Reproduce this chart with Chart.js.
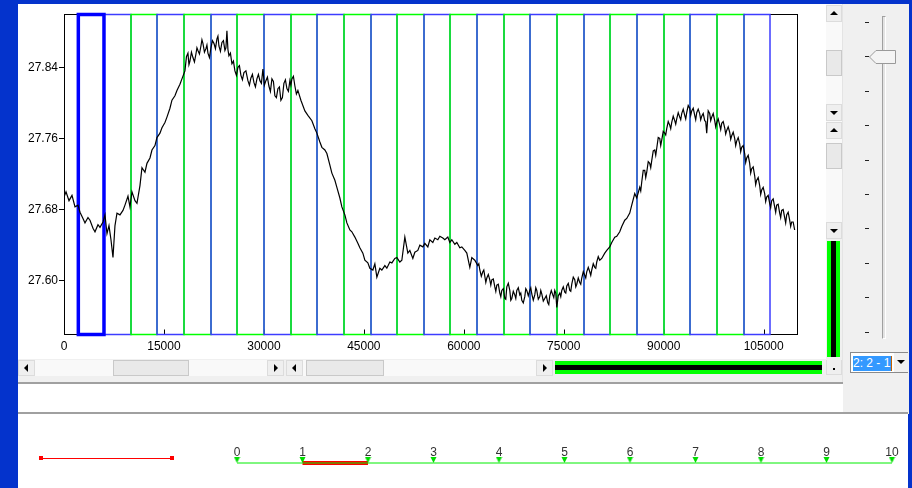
<!DOCTYPE html>
<html>
<head>
<meta charset="utf-8">
<script src="https://cdn.jsdelivr.net/npm/chart.js@4.4.1/dist/chart.umd.min.js"></script>
<style>
  body { margin: 0; width: 912px; height: 488px; background: #0433cc; position: relative; overflow: hidden; font-family: "Liberation Sans", Arial, sans-serif; }
  .a { position: absolute; }
  .white { background: #fff; }
  .face { background: #f0f0f0; }
  .btn { position: absolute; width: 17px; height: 16px; background: #efefef; box-sizing: border-box; border: 1px solid #dcdcdc; }
  .vbtn { position: absolute; left: 0; width: 16px; height: 17px; background: #efefef; box-sizing: border-box; border: 1px solid #dcdcdc; }
  .track { position: absolute; background: #f9f9f9; }
  .thumb { position: absolute; background: #e9e9e9; box-sizing: border-box; border: 1px solid #c9c9c9; }
  .tl, .tr, .tu, .td { position: absolute; width: 0; height: 0; }
  .tl { left: 5px; top: 3px; border-top: 4px solid transparent; border-bottom: 4px solid transparent; border-right: 4px solid #000; }
  .tr { left: 6px; top: 3px; border-top: 4px solid transparent; border-bottom: 4px solid transparent; border-left: 4px solid #000; }
  .tu { left: 3px; top: 5px; border-left: 4px solid transparent; border-right: 4px solid transparent; border-bottom: 4px solid #000; }
  .td { left: 3px; top: 6px; border-left: 4px solid transparent; border-right: 4px solid transparent; border-top: 4px solid #000; }
  .tick { position: absolute; left: 865px; width: 4px; height: 1px; background: #222; }
</style>
</head>
<body>
<!-- plot panel -->
<div class="a white" style="left:18px;top:4px;width:808px;height:356px"></div>
<canvas id="mainChart" class="a" style="left:18px;top:4px" width="790" height="352"></canvas>

<!-- horizontal scroll row -->
<div class="a face" style="left:18px;top:359px;width:825px;height:24px"></div>
<div class="track" style="left:18px;top:360px;width:266px;height:16px"></div>
<div class="btn" style="left:18px;top:360px"><i class="tl"></i></div>
<div class="thumb" style="left:113px;top:360px;width:76px;height:16px"></div>
<div class="btn" style="left:267px;top:360px"><i class="tr"></i></div>
<div class="track" style="left:286px;top:360px;width:267px;height:16px"></div>
<div class="btn" style="left:286px;top:360px"><i class="tl"></i></div>
<div class="thumb" style="left:306px;top:360px;width:78px;height:16px"></div>
<div class="btn" style="left:536px;top:360px"><i class="tr"></i></div>
<div class="a" style="left:555px;top:361px;width:267px;height:13px;background:#00ff00"></div>
<div class="a" style="left:555px;top:365px;width:267px;height:5px;background:#000"></div>
<div class="btn" style="left:826px;top:359px;width:16px"><i class="a" style="left:6px;top:8px;width:2px;height:2px;background:#000"></i></div>

<!-- vertical scroll bars -->
<div class="track" style="left:826px;top:4px;width:16px;height:236px"></div>
<div class="vbtn" style="left:826px;top:5px"><i class="tu"></i></div>
<div class="thumb" style="left:826px;top:50px;width:16px;height:26px"></div>
<div class="vbtn" style="left:826px;top:104px"><i class="td"></i></div>
<div class="vbtn" style="left:826px;top:122px"><i class="tu"></i></div>
<div class="thumb" style="left:826px;top:143px;width:16px;height:26px"></div>
<div class="vbtn" style="left:826px;top:222px"><i class="td"></i></div>
<div class="a face" style="left:826px;top:239px;width:16px;height:121px"></div>
<div class="a" style="left:827px;top:241px;width:13px;height:116px;background:#00ff00"></div>
<div class="a" style="left:831px;top:241px;width:5px;height:116px;background:#000"></div>

<!-- right control panel -->
<div class="a face" style="left:842px;top:4px;width:66px;height:410px;border-left:1px solid #e4e4e4"></div>
<div class="a" style="left:882px;top:16px;width:2px;height:321px;border-left:1px solid #a0a0a0;border-top:1px solid #a0a0a0;border-right:1px solid #fff;border-bottom:1px solid #fff;background:#e3e3e3"></div>
<div id="sliderTicks"></div>
<svg class="a" style="left:869px;top:50px" width="28" height="15">
  <polygon points="0.5,7 7,0.5 26.5,0.5 26.5,13.5 7,13.5" fill="#f4f4f4" stroke="#9a9a9a"/>
</svg>
<div class="a white" style="left:850px;top:352px;width:58px;height:21px;box-sizing:border-box;border:1px solid #8a8a8a"></div>
<div class="a" style="left:853px;top:356px;width:38px;height:15px;background:#3399ff;color:#fff;font-size:12px;line-height:15px;white-space:nowrap">2: 2 - 1</div>
<div class="a" style="left:891px;top:356px;width:1px;height:15px;background:#c06000"></div>
<div class="a face" style="left:894px;top:353px;width:14px;height:19px"><i class="td" style="left:3px;top:7px"></i></div>

<!-- separator strip -->
<div class="a" style="left:18px;top:382px;width:825px;height:2px;background:#a0a0a0"></div>
<div class="a white" style="left:18px;top:384px;width:825px;height:28px"></div>
<div class="a" style="left:18px;top:412px;width:890px;height:2px;background:#a0a0a0"></div>

<!-- bottom panel -->
<div class="a white" style="left:18px;top:414px;width:890px;height:74px"></div>
<div class="a" style="left:41px;top:458px;width:131px;height:1px;background:#ff0000"></div>
<div class="a" style="left:39px;top:456px;width:4px;height:4px;background:#ff0000"></div>
<div class="a" style="left:170px;top:456px;width:4px;height:4px;background:#ff0000"></div>
<canvas id="rulerChart" class="a" style="left:200px;top:438px" width="708" height="36"></canvas>

<script>
// measured signal (x = sample index, y = value), grouped by stretch of the record
const times = [
  0, 300, 750, 1200, 1650, 2100, 2400, 2850, 3150, 3600, 3900, 4350, 4650, 5100, 5400, 5850, 6150, 6450, 6750, 7050,
  7350, 7650, 7950, 8400, 8850, 9150, 9600, 9900, 10200, 10650, 10950, 11400, 11700, 12150, 12450, 12900, 13200, 13650, 13950, 14400,
  14700, 15150, 15450, 15900, 16200, 16650, 16950, 17400, 17700,
  18150, 18375, 18600, 18750, 18900, 19125, 19350, 19575, 19800, 19950,
  20100, 20325, 20550, 20700, 20850, 21075, 21300, 21450, 21600, 21825,
  22050, 22275, 22500, 22725, 22950, 23100, 23250, 23475, 23700, 23925,
  24150, 24300, 24450, 24600, 24750, 24975, 25200, 25425, 25650, 25875,
  26100, 26325, 26550, 26775, 27000, 27300, 27600, 27825, 28050, 28275,
  28500, 28725, 28950, 29175, 29400, 29625, 29850, 30075, 30300, 30525,
  30750, 30975, 31200, 31425, 31650, 31875, 32100, 32325, 32550, 32775,
  33000, 33225, 33450, 33675, 33900, 34050, 34200, 34425, 34650, 34875,
  35100,
  35550, 36150, 36600, 37200, 37650, 37950, 38400, 38700, 39150, 39450,
  39900, 40200, 40650, 40950, 41400, 41700, 42150, 42450, 42900, 43200,
  43650, 44100, 44400, 44850, 45150, 45600, 45900, 46350, 46650, 46950,
  47400, 47700, 48150, 48450, 48900, 49200, 49650, 49950, 50400, 50700,
  51150, 51600, 51900, 52350, 52650, 53100, 53400, 53850, 54150, 54600,
  54900, 55350, 55650, 56100, 56400, 56850, 57150, 57600, 57900, 58200,
  58650, 58950, 59400, 59700, 60150, 60450, 60900, 61200, 61650,
  62100, 62250, 62400, 62625, 62850, 63000, 63150, 63300, 63450, 63675,
  63900, 64050, 64200, 64425, 64650, 64800, 64950, 65175, 65400, 65550,
  65700, 65925, 66150, 66300, 66450, 66675, 66900, 67050, 67200, 67425,
  67650, 67800, 67950, 68175, 68400, 68550, 68700, 68925, 69150, 69300,
  69450, 69675, 69900, 70050, 70200, 70425, 70650, 70800, 70950, 71175,
  71400, 71550, 71700, 71925, 72150, 72375, 72600, 72750, 72900, 73125,
  73350, 73500, 73650, 73800, 73950, 74175, 74400, 74550, 74700, 74925,
  75150, 75300, 75450, 75675, 75900, 76050, 76200, 76425, 76650, 76800,
  76950, 77175, 77400, 77550, 77700, 77925, 78150, 78300, 78450, 78675,
  78900, 79050, 79200, 79425, 79650, 79800, 79950, 80175, 80400,
  80700, 81150, 81450, 81900, 82200, 82650, 82950, 83400, 83700, 84150, 84450, 84900, 85200, 85650, 85950, 86400,
  86550, 86700, 86925, 87150, 87300, 87450, 87675, 87900, 88050, 88200,
  88425, 88650, 88800, 88950, 89175, 89400, 89550, 89700, 89925, 90150,
  90300, 90450, 90675, 90900, 91050, 91200, 91425, 91650, 91800, 91950,
  92175, 92400, 92550, 92700, 92925, 93150, 93300, 93450, 93675, 93900,
  94050, 94200, 94425, 94650, 94800, 94950, 95175, 95400, 95550, 95700,
  95925, 96150, 96300, 96450, 96675, 96900, 97050, 97200, 97425, 97650,
  97800, 97950, 98175, 98400, 98550, 98700, 98925, 99150, 99300, 99450,
  99675, 99900, 100050, 100200, 100425, 100650, 100800, 100950, 101175, 101400,
  101550, 101700, 101925, 102150, 102300, 102450, 102675, 102900, 103050, 103200,
  103425, 103650, 103800, 103950, 104175, 104400, 104550, 104700, 104925, 105150,
  105300, 105450, 105675, 105900, 106050, 106200, 106425, 106650, 106800, 106950,
  107175, 107400, 107550, 107700, 107925, 108150, 108300, 108450, 108675, 108900,
  109050, 109200, 109425, 109650];
const values = [
  27.694, 27.700, 27.690, 27.696, 27.683, 27.685, 27.677, 27.670, 27.665, 27.671, 27.668, 27.659, 27.655, 27.663, 27.660, 27.666, 27.674, 27.653, 27.662, 27.646,
  27.626, 27.662, 27.676, 27.674, 27.679, 27.685, 27.695, 27.683, 27.700, 27.690, 27.687, 27.707, 27.727, 27.722, 27.732, 27.738, 27.747, 27.752, 27.761, 27.766,
  27.772, 27.778, 27.784, 27.794, 27.803, 27.808, 27.814, 27.821, 27.827,
  27.836, 27.852, 27.856, 27.843, 27.847, 27.857, 27.851, 27.846, 27.855, 27.862,
  27.859, 27.855, 27.864, 27.871, 27.867, 27.857, 27.861, 27.865, 27.856, 27.851,
  27.862, 27.870, 27.867, 27.861, 27.872, 27.875, 27.864, 27.858, 27.868, 27.870,
  27.859, 27.862, 27.881, 27.860, 27.853, 27.856, 27.844, 27.847, 27.836, 27.831,
  27.840, 27.842, 27.831, 27.826, 27.834, 27.836, 27.825, 27.820, 27.828, 27.832,
  27.823, 27.818, 27.827, 27.832, 27.825, 27.822, 27.838, 27.820, 27.825, 27.829,
  27.819, 27.813, 27.827, 27.824, 27.808, 27.806, 27.816, 27.818, 27.803, 27.806,
  27.822, 27.826, 27.816, 27.813, 27.825, 27.820, 27.827, 27.830, 27.819, 27.810,
  27.814,
  27.803, 27.791, 27.786, 27.780, 27.771, 27.766, 27.756, 27.750, 27.747, 27.743,
  27.730, 27.721, 27.713, 27.705, 27.693, 27.683, 27.674, 27.665, 27.657, 27.655,
  27.649, 27.642, 27.637, 27.631, 27.623, 27.620, 27.614, 27.612, 27.619, 27.604,
  27.614, 27.612, 27.617, 27.614, 27.621, 27.620, 27.625, 27.626, 27.621, 27.623,
  27.649, 27.631, 27.634, 27.625, 27.632, 27.634, 27.640, 27.638, 27.642, 27.638,
  27.646, 27.643, 27.648, 27.646, 27.650, 27.648, 27.646, 27.649, 27.643, 27.646,
  27.641, 27.643, 27.637, 27.638, 27.634, 27.631, 27.615, 27.626, 27.623,
  27.617, 27.619, 27.612, 27.605, 27.610, 27.612, 27.605, 27.598, 27.603, 27.607,
  27.601, 27.595, 27.601, 27.602, 27.593, 27.588, 27.595, 27.596, 27.586, 27.582,
  27.589, 27.591, 27.580, 27.579, 27.593, 27.597, 27.589, 27.578, 27.580, 27.588,
  27.584, 27.580, 27.589, 27.592, 27.584, 27.586, 27.578, 27.575, 27.582, 27.591,
  27.589, 27.583, 27.589, 27.592, 27.585, 27.578, 27.584, 27.592, 27.589, 27.579,
  27.582, 27.589, 27.585, 27.577, 27.580, 27.583, 27.575, 27.573, 27.583, 27.589,
  27.584, 27.581, 27.589, 27.586, 27.570, 27.583, 27.586, 27.582, 27.589, 27.593,
  27.587, 27.586, 27.594, 27.597, 27.589, 27.588, 27.596, 27.604, 27.601, 27.593,
  27.596, 27.603, 27.598, 27.596, 27.603, 27.610, 27.606, 27.603, 27.610, 27.615,
  27.610, 27.606, 27.612, 27.619, 27.615, 27.614, 27.621, 27.627, 27.623,
  27.625, 27.631, 27.634, 27.638, 27.643, 27.649, 27.650, 27.655, 27.661, 27.668, 27.670, 27.676, 27.685, 27.698, 27.693, 27.705,
  27.701, 27.711, 27.724, 27.724, 27.716, 27.722, 27.734, 27.732, 27.727, 27.735,
  27.746, 27.747, 27.741, 27.749, 27.761, 27.760, 27.752, 27.758, 27.768, 27.766,
  27.764, 27.771, 27.779, 27.775, 27.771, 27.778, 27.785, 27.780, 27.776, 27.782,
  27.789, 27.784, 27.781, 27.788, 27.793, 27.786, 27.782, 27.789, 27.797, 27.794,
  27.786, 27.791, 27.794, 27.786, 27.781, 27.789, 27.793, 27.788, 27.781, 27.785,
  27.788, 27.780, 27.779, 27.766, 27.791, 27.788, 27.780, 27.784, 27.788, 27.780,
  27.773, 27.778, 27.782, 27.775, 27.770, 27.777, 27.779, 27.772, 27.765, 27.769,
  27.773, 27.767, 27.759, 27.763, 27.767, 27.760, 27.752, 27.757, 27.761, 27.754,
  27.745, 27.750, 27.752, 27.743, 27.733, 27.738, 27.741, 27.732, 27.721, 27.726,
  27.728, 27.718, 27.708, 27.713, 27.716, 27.707, 27.697, 27.702, 27.705, 27.698,
  27.689, 27.694, 27.696, 27.687, 27.682, 27.690, 27.692, 27.683, 27.677, 27.685,
  27.686, 27.676, 27.671, 27.679, 27.680, 27.671, 27.665, 27.674, 27.677, 27.668,
  27.661, 27.666, 27.666, 27.657];

// analysis windows (start of each window, all the same length)
const windowStarts = [2000, 6000, 10000, 14000, 18000, 22000, 26000, 30000, 34000, 38000, 42000, 46000, 50000,
  54000, 58000, 62000, 66000, 70000, 74000, 78000, 82000, 86000, 90000, 94000, 98000, 102000];
const windowLength = 4000;
const selectedWindow = 0;

const xTicks = [0, 15000, 30000, 45000, 60000, 75000, 90000, 105000];
const yTicks = [27.60, 27.68, 27.76, 27.84];

const rulerTicks = [0, 1, 2, 3, 4, 5, 6, 7, 8, 9, 10];
const rulerSelection = [1, 2];

// slider tick dashes
for (let i = 0; i < 10; i++) {
  const d = document.createElement('div');
  d.className = 'tick';
  d.style.top = Math.round(22 + i * 34.4) + 'px';
  document.getElementById('sliderTicks').appendChild(d);
}

const axisFont = { family: '"Liberation Sans", Arial, sans-serif', size: 12 };

// frame, inner x ticks and the window rectangles under the signal
const windowPlugin = {
  id: 'windows',
  beforeDatasetsDraw(chart) {
    const { ctx, chartArea: a, scales: { x } } = chart;
    const top = Math.round(a.top) + 0.5, bottom = Math.round(a.bottom) + 0.5;
    ctx.save();
    ctx.lineWidth = 1;
    ctx.strokeStyle = '#000';
    ctx.strokeRect(Math.round(a.left) + 0.5, top, Math.round(a.right) - Math.round(a.left), bottom - top);
    xTicks.forEach(v => {
      if (v === 0) return;
      const px = Math.round(x.getPixelForValue(v)) + 0.5;
      ctx.beginPath();
      ctx.moveTo(px, bottom);
      ctx.lineTo(px, bottom - 5);
      ctx.stroke();
    });
    ctx.lineWidth = 1.5;
    windowStarts.forEach((s, i) => {
      if (i === selectedWindow) return;
      const l = Math.round(x.getPixelForValue(s));
      const r = Math.round(x.getPixelForValue(s + windowLength));
      ctx.strokeStyle = i % 2 ? '#3c3cff' : '#00ff00';
      ctx.strokeRect(l, top, r - l, bottom - top);
    });
    const s = windowStarts[selectedWindow];
    const l = x.getPixelForValue(s) + 1, r = x.getPixelForValue(s + windowLength);
    ctx.lineWidth = 3.5;
    ctx.strokeStyle = '#0000ff';
    ctx.strokeRect(l, top, r - l, bottom - top);
    ctx.restore();
  }
};

new Chart(document.getElementById('mainChart'), {
  type: 'line',
  data: {
    datasets: [{
      data: times.map((t, i) => ({ x: t, y: values[i] })),
      borderColor: '#000',
      borderWidth: 1.2,
      pointRadius: 0,
      tension: 0
    }]
  },
  options: {
    responsive: false,
    animation: false,
    events: [],
    layout: { padding: { top: 10, right: 11, left: 0, bottom: 0 } },
    plugins: { legend: { display: false }, tooltip: { enabled: false } },
    scales: {
      x: {
        type: 'linear', min: 0, max: 110000,
        afterBuildTicks: s => { s.ticks = xTicks.map(v => ({ value: v })); },
        afterFit: s => { s.height = 22; },
        grid: { display: false, drawTicks: false },
        border: { display: false },
        ticks: { autoSkip: false, maxRotation: 0, padding: 5, color: '#000', font: axisFont, callback: v => String(v) }
      },
      y: {
        min: 27.54, max: 27.90,
        afterBuildTicks: s => { s.ticks = yTicks.map(v => ({ value: v })); },
        afterFit: s => { s.width = 46; },
        grid: { drawOnChartArea: false, drawTicks: true, tickLength: 5, color: '#000' },
        border: { display: false },
        ticks: { padding: 1, color: '#000', font: axisFont, callback: v => v.toFixed(2) }
      }
    }
  },
  plugins: [windowPlugin]
});

// small green marker sitting on top of the ruler line
const marker = document.createElement('canvas');
marker.width = 7; marker.height = 14;
const mctx = marker.getContext('2d');
mctx.fillStyle = '#00dd00';
mctx.beginPath();
mctx.moveTo(0.5, 1); mctx.lineTo(6.5, 1); mctx.lineTo(3.5, 7); mctx.closePath();
mctx.fill();
mctx.fillRect(2, 1, 3, 3);

new Chart(document.getElementById('rulerChart'), {
  type: 'line',
  data: {
    datasets: [
      {
        data: rulerSelection.map(v => ({ x: v, y: 0 })),
        borderColor: '#ff0000', borderWidth: 4, pointRadius: 0, clip: false, order: 2
      },
      {
        data: rulerTicks.map(v => ({ x: v, y: 0 })),
        borderColor: '#00ee00', borderWidth: 1, pointRadius: 3, pointStyle: marker, clip: false, order: 1
      }
    ]
  },
  options: {
    responsive: false,
    animation: false,
    events: [],
    layout: { padding: { top: 0, right: 16, left: 37, bottom: 11 } },
    plugins: { legend: { display: false }, tooltip: { enabled: false } },
    scales: {
      x: {
        type: 'linear', position: 'top', min: 0, max: 10,
        afterBuildTicks: s => { s.ticks = rulerTicks.map(v => ({ value: v })); },
        afterFit: s => { s.height = 22; },
        grid: { display: false, drawTicks: false },
        border: { display: false },
        ticks: { autoSkip: false, maxRotation: 0, padding: 0, color: '#333', font: axisFont }
      },
      y: { display: false, min: 0, max: 1 }
    }
  }
});
</script>
</body>
</html>
